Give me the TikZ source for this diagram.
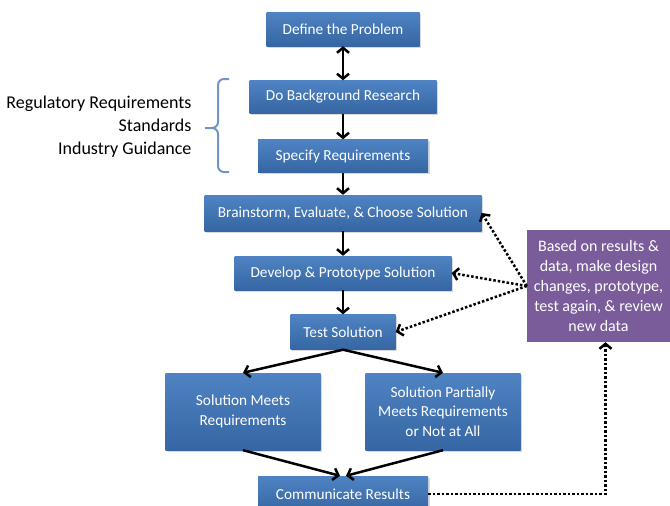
\documentclass[tikz,border=0pt]{standalone}
\usepackage{fontspec}
\setmainfont{Carlito}
\usetikzlibrary{arrows.meta, shadows}

\definecolor{stepblue}{HTML}{4F83C3}
\definecolor{stepbluedark}{HTML}{3666A3}
\definecolor{notepurple}{HTML}{7A5C9B}
\definecolor{bracketblue}{HTML}{6F96C9}

\begin{document}
\begin{tikzpicture}[x=1pt, y=-1pt, >={Straight Barb[length=5pt, width=12pt]},
    stepbox/.style={top color=stepblue, bottom color=stepbluedark, text=white, align=center, inner sep=0pt,
        font=\fontsize{15.3}{19.5}\selectfont, drop shadow={opacity=0.3, shadow xshift=1.5pt, shadow yshift=-1.5pt}},
    notebox/.style={fill=notepurple, text=white, align=center, inner sep=0pt, font=\fontsize{16}{20}\selectfont},
    flow/.style={line width=2.5pt},
    feedback/.style={line width=2.5pt, dash pattern=on 2.5pt off 2pt},
    bracket/.style={line width=2pt, bracketblue, rounded corners=6pt}]
                        \useasboundingbox (0, 0) rectangle (670, 506);
                        \node[stepbox, minimum width=153pt, minimum height=34pt] (define) at (343, 29) {Define the Problem};
                        \node[stepbox, minimum width=187pt, minimum height=33pt] (research) at (343, 97) {Do Background Research};
                        \node[stepbox, minimum width=170pt, minimum height=33pt] (specify) at (343, 156) {Specify Requirements};
                        \node[stepbox, minimum width=277pt, minimum height=36pt] (choose) at (343, 213) {Brainstorm, Evaluate, \& Choose Solution};
                        \node[stepbox, minimum width=217pt, minimum height=34pt] (develop) at (343, 273) {Develop \& Prototype Solution};
                        \node[stepbox, minimum width=105pt, minimum height=35pt] (test) at (343, 332) {Test Solution};
                        \node[stepbox, minimum width=155pt, minimum height=77pt] (meets) at (243, 411.5) {Solution Meets\\Requirements};
                        \node[stepbox, minimum width=155pt, minimum height=77pt] (partial) at (443, 411.5) {Solution Partially\\Meets Requirements\\or Not at All};
                        \node[stepbox, minimum width=170pt, minimum height=36pt] (communicate) at (343, 494) {Communicate Results};
                        \node[notebox, minimum width=143pt, minimum height=112pt] (review) at (598.5, 286) {Based on results \&\\data, make design\\changes, prototype,\\test again, \& review\\new data};
                        \node[anchor=east, align=right, font=\fontsize{18}{23}\selectfont] (sources) at (195, 127) {Regulatory Requirements\\Standards\\Industry Guidance};
                        \draw[bracket]
                        (229, 79) -- (218, 79) -- (218, 128) -- (205, 128)
                        (205, 128) -- (218, 128) -- (218, 172) -- (229, 172);
                        \draw[flow]
                        (define) edge[<->] (research)
                        (research) edge[->] (specify)
                        (specify) edge[->] (choose)
                        (choose) edge[->] (develop)
                        (develop) edge[->] (test)
                        (test.south) edge[->] (meets.north)
                        (test.south) edge[->] (partial.north)
                        (meets.south) edge[->] ([xshift=-3pt]communicate.north)
                        (partial.south) edge[->] ([xshift=3pt]communicate.north);
                        \draw[feedback]
                        (review.west) edge[->] (choose.east)
                        (review.west) edge[->] (develop.east)
                        (review.west) edge[->] (test.east);
                        \draw[feedback, ->] (communicate.east) -| ([xshift=7pt]review.south);
                    \end{tikzpicture}
\end{document}
